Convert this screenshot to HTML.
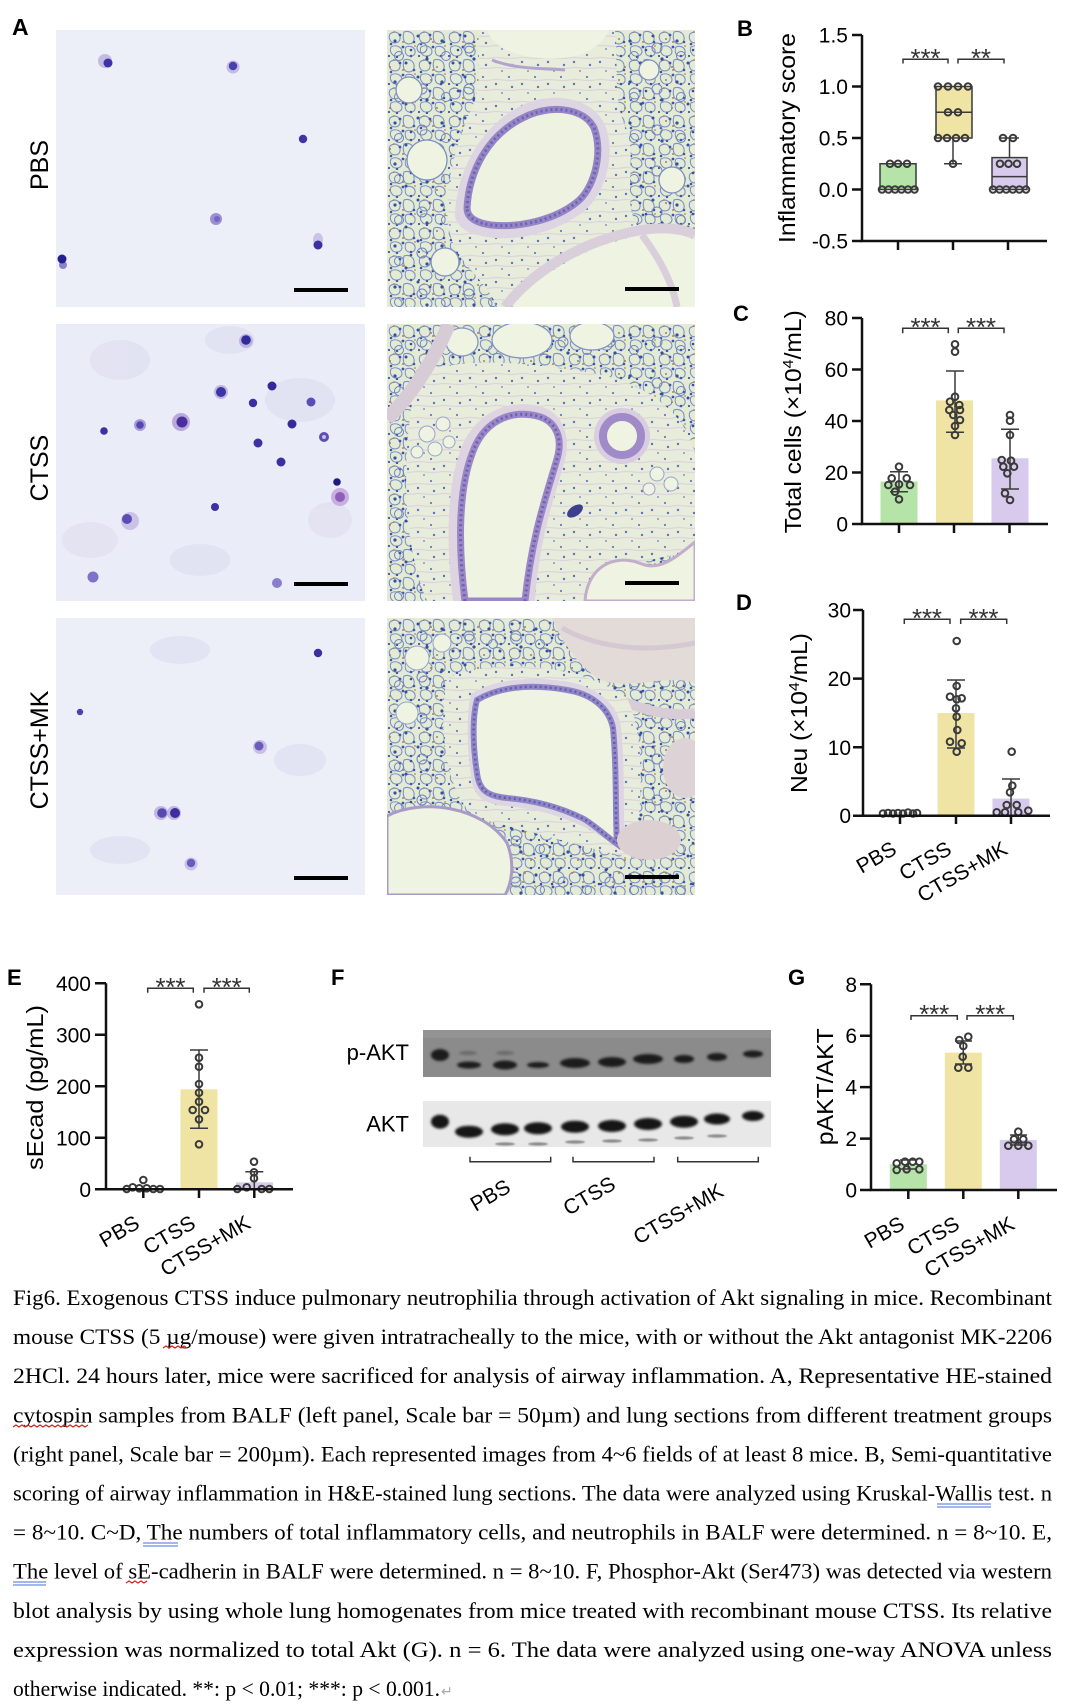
<!DOCTYPE html>
<html><head><meta charset="utf-8"><style>
html,body{margin:0;padding:0;background:#fff;}
svg{display:block;}
</style></head><body>
<svg width="1080" height="1707" viewBox="0 0 1080 1707" xmlns="http://www.w3.org/2000/svg" font-family="Liberation Sans, Arial, sans-serif">
<defs>
 <pattern id="alv" patternUnits="userSpaceOnUse" width="30" height="28">
  <rect width="30" height="28" fill="#e4ebd5"/>
  <g fill="none" stroke="#7d8fc4" stroke-width="1.1">
   <path d="M3,4 C8,0 14,3 13,9 C12,14 5,14 3,10 C2,8 2,6 3,4Z"/>
   <path d="M17,2 C23,0 28,4 27,10 C26,15 19,15 17,11 C16,8 16,5 17,2Z"/>
   <path d="M4,17 C9,14 15,17 15,22 C14,27 7,27 5,24 C3,22 3,19 4,17Z"/>
   <path d="M19,17 C24,15 29,18 28,23 C27,27 21,27 19,24 C18,22 18,19 19,17Z"/>
  </g>
  <g fill="#3f57a8">
   <circle cx="13" cy="5" r="1.4"/><circle cx="27" cy="12" r="1.3"/><circle cx="4" cy="14" r="1.3"/><circle cx="16" cy="17" r="1.4"/><circle cx="10" cy="27" r="1.2"/><circle cx="24" cy="26" r="1.3"/><circle cx="2" cy="26" r="1.1"/>
  </g>
  <g fill="#b08650"><circle cx="16" cy="12" r="1"/><circle cx="7" cy="2" r="0.9"/><circle cx="28" cy="16" r="0.9"/></g>
 </pattern>
 <pattern id="alv2" patternUnits="userSpaceOnUse" width="47" height="41">
  <g fill="#34509f"><circle cx="8" cy="11" r="1.6"/><circle cx="31" cy="6" r="1.5"/><circle cx="40" cy="29" r="1.6"/><circle cx="19" cy="33" r="1.5"/><circle cx="24" cy="20" r="1.3"/></g>
  <g fill="none" stroke="#6f82bd" stroke-width="1"><circle cx="35" cy="18" r="5"/><circle cx="12" cy="26" r="4.5"/></g>
  <g fill="#a8804c"><circle cx="44" cy="9" r="1"/><circle cx="3" cy="37" r="1"/></g>
 </pattern>
 <pattern id="ct" patternUnits="userSpaceOnUse" width="26" height="22">
  <rect width="26" height="22" fill="#e8ecdb"/>
  <path d="M0,6 C8,4 16,8 26,6" stroke="#dcd6dc" stroke-width="1.2" fill="none"/>
  <path d="M0,16 C8,14 16,18 26,16" stroke="#dcd6dc" stroke-width="1.2" fill="none"/>
  <circle cx="5" cy="10" r="1.2" fill="#5e74b6"/><circle cx="18" cy="3" r="1.1" fill="#6a7dba"/><circle cx="21" cy="13" r="1.2" fill="#5e74b6"/><circle cx="11" cy="19" r="1" fill="#8a93c6"/>
 </pattern>
 <clipPath id="cp"><rect x="0" y="0" width="308" height="277"/></clipPath>
 <filter id="bl" x="-30%" y="-60%" width="160%" height="220%"><feGaussianBlur stdDeviation="1.2"/></filter>
 <filter id="bl2" x="-30%" y="-30%" width="160%" height="160%"><feGaussianBlur stdDeviation="0.8"/></filter>
</defs>

<!-- ============ PANEL A ============ -->
<text x="12" y="35" font-size="23" font-weight="bold">A</text>
<text transform="translate(48,165) rotate(-90)" text-anchor="middle" font-size="25">PBS</text>
<text transform="translate(48,468) rotate(-90)" text-anchor="middle" font-size="25">CTSS</text>
<text transform="translate(48,750) rotate(-90)" text-anchor="middle" font-size="25">CTSS+MK</text>

<!-- left cytospin panels -->
<rect x="56" y="30" width="309" height="277" fill="#eceef8"/>
<rect x="56" y="324" width="309" height="277" fill="#eaecf7"/>
<rect x="56" y="618" width="309" height="277" fill="#eceef8"/>
<g fill="#dcdcef" opacity="0.55">
 <ellipse cx="120" cy="360" rx="30" ry="20"/><ellipse cx="230" cy="340" rx="25" ry="14"/><ellipse cx="300" cy="400" rx="35" ry="22"/>
 <ellipse cx="90" cy="540" rx="28" ry="18"/><ellipse cx="200" cy="560" rx="30" ry="16"/><ellipse cx="330" cy="520" rx="22" ry="18"/>
 <ellipse cx="180" cy="650" rx="30" ry="14"/><ellipse cx="300" cy="760" rx="26" ry="16"/><ellipse cx="120" cy="850" rx="30" ry="14"/>
</g>
<!-- cells row1 -->
<g>
 <circle cx="105" cy="61" r="7" fill="#b9aedf" opacity="0.8"/><circle cx="108" cy="63" r="4.5" fill="#3e33a2"/>
 <circle cx="233" cy="67" r="6.5" fill="#b9aedf" opacity="0.8"/><circle cx="233" cy="66" r="4.2" fill="#4a3fae"/>
 <circle cx="303" cy="139" r="4.2" fill="#3e35a6"/>
 <circle cx="216" cy="219" r="6" fill="#9a8ed4"/><circle cx="217" cy="219" r="3" fill="#7466c2"/>
 <ellipse cx="318" cy="240" rx="5" ry="7" fill="#c2b8e2" opacity="0.8"/><circle cx="318" cy="245" r="4.5" fill="#3a30a0"/>
 <circle cx="63" cy="265" r="4" fill="#8c80cf"/><circle cx="62" cy="259" r="4.5" fill="#22208a"/>
</g>
<!-- cells row2 -->
<g>
 <circle cx="246" cy="341" r="7" fill="#b3a8dc" opacity="0.8"/><circle cx="246" cy="340" r="4.8" fill="#32299a"/>
 <circle cx="221" cy="392" r="7" fill="#b3a8dc" opacity="0.8"/><circle cx="221" cy="392" r="5" fill="#3d33a4"/>
 <circle cx="272" cy="386" r="4.5" fill="#33299c"/>
 <circle cx="253" cy="403" r="4.2" fill="#3a2fa0"/>
 <circle cx="311" cy="402" r="4.5" fill="#5a4db5"/>
 <circle cx="104" cy="431" r="3.8" fill="#3b31a2"/>
 <circle cx="140" cy="425" r="6" fill="#a89cd8"/><circle cx="140" cy="425" r="3.8" fill="#5447b2"/>
 <circle cx="181" cy="422" r="9" fill="#b09fd9" opacity="0.85"/><circle cx="182" cy="422" r="5.5" fill="#4a2f9e"/>
 <circle cx="292" cy="424" r="4.5" fill="#35299c"/>
 <circle cx="324" cy="437" r="5" fill="#5b4fb6"/><circle cx="324" cy="437" r="2" fill="#c7c0e6"/>
 <circle cx="258" cy="443" r="4.5" fill="#3c32a2"/>
 <circle cx="281" cy="462" r="4.5" fill="#3a30a0"/>
 <circle cx="337" cy="482" r="3.8" fill="#1f1c80"/>
 <circle cx="340" cy="497" r="9" fill="#c5a9dc" opacity="0.9"/><circle cx="340" cy="497" r="5" fill="#8d5fb8"/>
 <circle cx="215" cy="507" r="4" fill="#3b31a2"/>
 <circle cx="130" cy="521" r="9" fill="#c3b8e2" opacity="0.8"/><circle cx="127" cy="519" r="5" fill="#5a4db5"/>
 <circle cx="93" cy="577" r="5.5" fill="#7f72c6"/>
 <circle cx="277" cy="583" r="5" fill="#8a7dcc"/>
</g>
<!-- cells row3 -->
<g>
 <circle cx="318" cy="653" r="4.2" fill="#3a30a0"/>
 <circle cx="80" cy="712" r="3.2" fill="#4a40ae"/>
 <circle cx="260" cy="747" r="7" fill="#bfb3e0" opacity="0.8"/><circle cx="259" cy="746" r="4.5" fill="#6a5cbc"/>
 <circle cx="161" cy="813" r="7" fill="#b6a9dc" opacity="0.8"/><circle cx="162" cy="813" r="4.8" fill="#5848b2"/>
 <circle cx="174" cy="813" r="7" fill="#b6a9dc" opacity="0.8"/><circle cx="175" cy="813" r="5" fill="#3b2f9e"/>
 <circle cx="191" cy="864" r="6.5" fill="#c0b5e0" opacity="0.8"/><circle cx="191" cy="863" r="4.2" fill="#6a5cbc"/>
</g>
<!-- scale bars left -->
<rect x="294" y="288" width="54" height="4" fill="#000"/>
<rect x="294" y="582" width="54" height="4" fill="#000"/>
<rect x="294" y="876" width="54" height="4" fill="#000"/>

<!-- right lung panels -->
<g transform="translate(387,30)" clip-path="url(#cp)">
 <rect width="308" height="277" fill="url(#alv)"/>
 <rect width="308" height="277" fill="url(#alv2)"/>
 <path d="M92,0 L228,0 C232,40 225,70 240,100 C250,130 235,170 250,195 L308,200 L308,277 L110,277 C100,250 70,235 62,200 C55,160 70,110 88,70 C95,45 90,20 92,0 Z" fill="url(#ct)"/>
 <path d="M100,0 C108,22 140,30 175,28 C200,26 215,15 222,0 Z" fill="#eef3e2"/>
 <path d="M105,30 C130,40 160,38 178,40" stroke="#b3a3cf" stroke-width="3" fill="none"/>
 <circle cx="40" cy="130" r="20" fill="#eef3e2" stroke="#7f8fc0" stroke-width="1.3"/>
 <circle cx="22" cy="60" r="13" fill="#eef3e2" stroke="#7f8fc0" stroke-width="1.3"/>
 <circle cx="58" cy="232" r="14" fill="#eef3e2" stroke="#7f8fc0" stroke-width="1.3"/>
 <circle cx="285" cy="150" r="13" fill="#eef3e2" stroke="#7f8fc0" stroke-width="1.3"/>
 <circle cx="262" cy="40" r="10" fill="#eef3e2" stroke="#7f8fc0" stroke-width="1.3"/>
 <path d="M68,184 C70,140 95,92 140,73 C172,61 207,70 218,95 C230,126 217,166 196,182 C170,202 130,212 100,207 C80,204 68,196 68,184 Z" fill="#ddd5e2"/>
 <path d="M80,178 C82,142 100,103 142,85 C170,74 198,80 207,98 C217,124 206,160 190,172 C168,190 132,198 104,195 C90,193 80,188 80,178 Z" fill="#eef3e1" stroke="#9585c6" stroke-width="7"/>
 <path d="M80,178 C82,142 100,103 142,85 C170,74 198,80 207,98 C217,124 206,160 190,172 C168,190 132,198 104,195 C90,193 80,188 80,178 Z" fill="none" stroke="#6e62b0" stroke-width="3" stroke-dasharray="2 3"/>
 <path d="M125,277 C150,245 200,215 255,205 C280,200 300,205 308,210 L308,277 Z" fill="#eef3e2"/>
 <path d="M118,277 C145,242 195,210 255,200 C280,196 300,200 308,205" stroke="#d9cfdb" stroke-width="10" fill="none"/>
 <path d="M255,205 C270,225 285,250 290,277" stroke="#d9cfdb" stroke-width="7" fill="none"/>
 <rect x="238" y="257" width="54" height="4" fill="#000"/>
</g>
<g transform="translate(387,324)" clip-path="url(#cp)">
 <rect width="308" height="277" fill="url(#alv)"/>
 <rect width="308" height="277" fill="url(#alv2)"/>
 <path d="M30,50 C80,30 150,40 210,50 C260,60 300,90 308,130 L308,230 C260,230 220,250 200,277 L40,277 C20,230 10,150 30,50 Z" fill="url(#ct)"/>
 <ellipse cx="135" cy="16" rx="30" ry="18" fill="#eef3e2" stroke="#8595c2" stroke-width="1.3"/>
 <ellipse cx="205" cy="12" rx="22" ry="14" fill="#eef3e2" stroke="#8595c2" stroke-width="1.3"/>
 <ellipse cx="75" cy="18" rx="16" ry="14" fill="#eef3e2" stroke="#8595c2" stroke-width="1.3"/>
 <path d="M0,95 C25,70 45,40 62,0" stroke="#d7ccd6" stroke-width="14" fill="none"/>
 <g fill="#eef3e2" stroke="#9aa5c8" stroke-width="1">
  <circle cx="40" cy="110" r="8"/><circle cx="56" cy="100" r="7"/><circle cx="48" cy="125" r="7"/><circle cx="30" cy="128" r="6"/><circle cx="62" cy="118" r="6"/>
  <circle cx="270" cy="150" r="7"/><circle cx="284" cy="160" r="7"/><circle cx="262" cy="165" r="6"/>
 </g>
 <path d="M66,277 C60,230 58,165 74,125 C86,92 118,74 152,82 C176,88 184,112 178,136 C168,172 152,214 148,277 Z" fill="#ddd3e1"/>
 <path d="M78,277 C72,230 70,170 85,130 C95,100 120,85 150,92 C170,97 176,115 170,135 C160,170 145,210 138,277 Z" fill="#eef3e2" stroke="#9a87c6" stroke-width="7"/>
 <path d="M78,277 C72,230 70,170 85,130 C95,100 120,85 150,92 C170,97 176,115 170,135 C160,170 145,210 138,277" fill="none" stroke="#6f5fb0" stroke-width="3" stroke-dasharray="2 3"/>
 <circle cx="235" cy="112" r="28" fill="#d9cde2"/>
 <circle cx="235" cy="112" r="19" fill="#eef3e2" stroke="#a08ac8" stroke-width="8"/>
 <path d="M198,277 C200,245 225,228 255,240 C275,248 295,228 308,218 L308,277 Z" fill="#eef3e2" stroke="#c2aecb" stroke-width="3"/>
 <ellipse cx="188" cy="187" rx="9" ry="5" transform="rotate(-35 188 187)" fill="#3d3f8e"/>
 <rect x="238" y="257" width="54" height="4" fill="#000"/>
</g>
<g transform="translate(387,618)" clip-path="url(#cp)">
 <rect width="308" height="277" fill="url(#alv)"/>
 <rect width="308" height="277" fill="url(#alv2)"/>
 <path d="M165,0 L308,0 L308,65 C275,55 240,75 210,60 C190,45 175,25 165,0 Z" fill="#e2dbd8"/>
 <path d="M175,10 C210,30 260,35 308,25" stroke="#d4c9d3" stroke-width="5" fill="none"/>
 <path d="M215,75 C250,90 280,100 308,95" stroke="#d8cdd6" stroke-width="10" fill="none"/>
 <ellipse cx="298" cy="150" rx="22" ry="30" fill="#ddd3d6"/>
 <path d="M60,60 C110,40 190,45 240,80 C260,120 255,200 245,240 C200,230 150,215 90,200 C60,180 50,110 60,60 Z" fill="url(#ct)"/>
 <path d="M84,76 C106,62 140,57 182,64 C210,69 230,86 234,108 C238,150 236,192 238,234 C220,222 205,212 193,207 C168,196 144,190 118,188 C96,186 86,178 84,158 C80,130 79,98 84,76 Z" fill="#ddd5e2"/>
 <path d="M90,82 C110,70 140,65 180,72 C205,76 222,90 226,110 C230,150 228,190 230,226 C215,215 205,205 195,200 C170,188 145,182 120,180 C100,178 92,172 90,155 C86,130 85,100 90,82 Z" fill="#eef3e2" stroke="#8f86c6" stroke-width="6"/>
 <path d="M90,82 C110,70 140,65 180,72 C205,76 222,90 226,110 C230,150 228,190 230,226 C215,215 205,205 195,200 C170,188 145,182 120,180 C100,178 92,172 90,155 C86,130 85,100 90,82 Z" fill="none" stroke="#665ab0" stroke-width="2.5" stroke-dasharray="2 3"/>
 <path d="M0,198 C35,180 95,188 120,225 C128,245 125,265 118,277 L0,277 Z" fill="#eef3e2" stroke="#a99bc8" stroke-width="3"/>
 <ellipse cx="262" cy="222" rx="32" ry="20" fill="#ddd0d3"/>
 <g fill="#eef3e2" stroke="#9aa5c8" stroke-width="1"><circle cx="30" cy="40" r="12"/><circle cx="55" cy="25" r="9"/><circle cx="20" cy="95" r="11"/></g>
 <rect x="238" y="257" width="54" height="4" fill="#000"/>
</g>

<!-- ============ PANEL B ============ -->
<text x="737" y="36" font-size="22" font-weight="bold">B</text>
<text transform="translate(795,138) rotate(-90)" text-anchor="middle" font-size="23" textLength="210" lengthAdjust="spacingAndGlyphs">Inflammatory score</text>
<g font-size="21" text-anchor="end">
 <text x="848" y="42.5">1.5</text><text x="848" y="94">1.0</text><text x="848" y="145.5">0.5</text><text x="848" y="197">0.0</text><text x="848" y="248.5">-0.5</text>
</g>
<g stroke="#3a3a3a" stroke-width="1.5">
 <rect x="880" y="163.75" width="36" height="25.75" fill="#b5e3a8"/>
 <rect x="936" y="86.5" width="36" height="51.5" fill="#f0e4a4"/>
 <line x1="936" y1="112.25" x2="972" y2="112.25"/>
 <line x1="953" y1="138" x2="953" y2="163.75"/><line x1="944" y1="163.75" x2="962" y2="163.75"/>
 <rect x="992" y="157.6" width="35" height="31.9" fill="#d7caec"/>
 <line x1="992" y1="176.6" x2="1027" y2="176.6"/>
 <line x1="1009.5" y1="157.6" x2="1009.5" y2="138"/><line x1="1000" y1="138" x2="1019" y2="138"/>
</g>
<g fill="none" stroke="#3a3a3a" stroke-width="2">
 <circle cx="890" cy="163.75" r="3.3"/><circle cx="898" cy="163.75" r="3.3"/><circle cx="907" cy="163.75" r="3.3"/>
 <circle cx="882" cy="189.5" r="3.3"/><circle cx="888.5" cy="189.5" r="3.3"/><circle cx="895" cy="189.5" r="3.3"/><circle cx="901.5" cy="189.5" r="3.3"/><circle cx="908" cy="189.5" r="3.3"/><circle cx="914.5" cy="189.5" r="3.3"/>
 <circle cx="938" cy="86.5" r="3.3"/><circle cx="948" cy="86.5" r="3.3"/><circle cx="958" cy="86.5" r="3.3"/><circle cx="968" cy="86.5" r="3.3"/>
 <circle cx="948" cy="112.25" r="3.3"/><circle cx="958" cy="112.25" r="3.3"/>
 <circle cx="938" cy="138" r="3.3"/><circle cx="947" cy="138" r="3.3"/><circle cx="956" cy="138" r="3.3"/><circle cx="965" cy="138" r="3.3"/>
 <circle cx="953" cy="163.75" r="3.3"/>
 <circle cx="1003" cy="138" r="3.3"/><circle cx="1013" cy="138" r="3.3"/>
 <circle cx="1000" cy="163.75" r="3.3"/><circle cx="1008.5" cy="163.75" r="3.3"/><circle cx="1017" cy="163.75" r="3.3"/>
 <circle cx="993" cy="189.5" r="3.3"/><circle cx="999.6" cy="189.5" r="3.3"/><circle cx="1006.2" cy="189.5" r="3.3"/><circle cx="1012.8" cy="189.5" r="3.3"/><circle cx="1019.4" cy="189.5" r="3.3"/><circle cx="1026" cy="189.5" r="3.3"/>
</g>
<g fill="none" stroke="#111" stroke-width="2.5">
 <path d="M862,35 V241 H1047"/>
 <path d="M852,35 H862 M852,86.5 H862 M852,138 H862 M852,189.5 H862 M852,241 H862"/>
 <path d="M898,241 V250 M953,241 V250 M1008,241 V250"/>
</g>
<g fill="none" stroke="#333" stroke-width="1.5">
 <path d="M903,63.5 V59.3 H948 V63.5"/><path d="M958,63.5 V59.3 H1004 V63.5"/>
</g>
<g font-size="26" text-anchor="middle" fill="#333">
 <text x="925.5" y="67" textLength="30" lengthAdjust="spacing">***</text>
 <text x="981" y="67" textLength="20" lengthAdjust="spacing">**</text>
</g>

<!-- ============ PANEL C ============ -->
<text x="733" y="321" font-size="22" font-weight="bold">C</text>
<text transform="translate(801,421.7) rotate(-90)" text-anchor="middle" font-size="23" textLength="223" lengthAdjust="spacingAndGlyphs">Total cells (×10<tspan dy="-8" font-size="15">4</tspan><tspan dy="8">/mL)</tspan></text>
<g font-size="21" text-anchor="end">
 <text x="848" y="325.5">80</text><text x="848" y="377">60</text><text x="848" y="428.5">40</text><text x="848" y="480">20</text><text x="848" y="531.5">0</text>
</g>
<rect x="880.5" y="481.5" width="37" height="42.5" fill="#b5e3a8"/>
<rect x="936" y="400.4" width="37" height="123.6" fill="#f0e4a4"/>
<rect x="991.5" y="458.3" width="37" height="65.7" fill="#d7caec"/>
<g stroke="#3a3a3a" stroke-width="1.5" fill="none">
 <path d="M899,471.7 V491.7 M890,471.7 H908 M890,491.7 H908"/>
 <path d="M955,371 V432.3 M946,371 H964 M946,432.3 H964"/>
 <path d="M1010,429.3 V489 M1001,429.3 H1019 M1001,489 H1019"/>
</g>
<g fill="none" stroke="#3a3a3a" stroke-width="2">
 <circle cx="899" cy="466.7" r="3.3"/><circle cx="891.7" cy="478.3" r="3.3"/><circle cx="906.7" cy="478.3" r="3.3"/><circle cx="888.3" cy="485" r="3.3"/><circle cx="899" cy="484.3" r="3.3"/><circle cx="910" cy="485" r="3.3"/><circle cx="895" cy="491.7" r="3.3"/><circle cx="899" cy="499.3" r="3.3"/>
 <circle cx="955" cy="344.3" r="3.3"/><circle cx="955" cy="351.7" r="3.3"/><circle cx="955" cy="396.7" r="3.3"/><circle cx="950" cy="401.7" r="3.3"/><circle cx="959.3" cy="405" r="3.3"/><circle cx="949.3" cy="410" r="3.3"/><circle cx="960" cy="410" r="3.3"/><circle cx="953.3" cy="415" r="3.3"/><circle cx="960" cy="420" r="3.3"/><circle cx="955" cy="426" r="3.3"/><circle cx="955" cy="435" r="3.3"/>
 <circle cx="1010" cy="415" r="3.3"/><circle cx="1010" cy="420.7" r="3.3"/><circle cx="1010" cy="435" r="3.3"/><circle cx="1001.7" cy="460" r="3.3"/><circle cx="1011" cy="460.7" r="3.3"/><circle cx="1003.3" cy="466.7" r="3.3"/><circle cx="1014" cy="466.7" r="3.3"/><circle cx="1007.3" cy="473.3" r="3.3"/><circle cx="1005" cy="493.3" r="3.3"/><circle cx="1010" cy="500" r="3.3"/>
</g>
<g fill="none" stroke="#111" stroke-width="2.5">
 <path d="M862,318 V524 H1048"/>
 <path d="M852,318 H862 M852,369.5 H862 M852,421 H862 M852,472.5 H862 M852,524 H862"/>
 <path d="M899,524 V533 M954,524 V533 M1009.5,524 V533"/>
</g>
<g fill="none" stroke="#333" stroke-width="1.5">
 <path d="M902.7,333.3 V328.3 H948.3 V333.3"/><path d="M958.3,333.3 V328.3 H1004 V333.3"/>
</g>
<g font-size="26" text-anchor="middle" fill="#333">
 <text x="925.5" y="336" textLength="30" lengthAdjust="spacing">***</text>
 <text x="981" y="336" textLength="30" lengthAdjust="spacing">***</text>
</g>

<!-- ============ PANEL D ============ -->
<text x="736" y="610" font-size="22" font-weight="bold">D</text>
<text transform="translate(807,713) rotate(-90)" text-anchor="middle" font-size="23" textLength="160" lengthAdjust="spacingAndGlyphs">Neu (×10<tspan dy="-8" font-size="15">4</tspan><tspan dy="8">/mL)</tspan></text>
<g font-size="21" text-anchor="end">
 <text x="851" y="617.5">30</text><text x="851" y="686">20</text><text x="851" y="755">10</text><text x="851" y="823">0</text>
</g>
<rect x="937.5" y="713" width="37" height="102.7" fill="#f0e4a4"/>
<rect x="992.5" y="798.6" width="37" height="17.1" fill="#d7caec"/>
<g stroke="#3a3a3a" stroke-width="1.5" fill="none">
 <path d="M956,680 V748 M947,680 H965 M947,748 H965"/>
 <path d="M1011,779 V815 M1002,779 H1020"/>
</g>
<g fill="none" stroke="#3a3a3a" stroke-width="2">
 <circle cx="883" cy="813.5" r="3.3"/><circle cx="888" cy="813" r="3.3"/><circle cx="893" cy="813.5" r="3.3"/><circle cx="898" cy="813" r="3.3"/><circle cx="903" cy="813.5" r="3.3"/><circle cx="908" cy="812.5" r="3.3"/><circle cx="913" cy="813.5" r="3.3"/><circle cx="917" cy="813" r="3.3"/>
 <circle cx="956.7" cy="641" r="3.3"/><circle cx="956.7" cy="686" r="3.3"/><circle cx="956.7" cy="699.3" r="3.3"/><circle cx="950" cy="696.7" r="3.3"/><circle cx="961.7" cy="698.3" r="3.3"/><circle cx="956" cy="708.3" r="3.3"/><circle cx="956.7" cy="716.7" r="3.3"/><circle cx="957.3" cy="730" r="3.3"/><circle cx="950" cy="741.7" r="3.3"/><circle cx="961.7" cy="743.3" r="3.3"/><circle cx="956.7" cy="751.7" r="3.3"/>
 <circle cx="1011.7" cy="751.7" r="3.3"/><circle cx="1012.3" cy="785.7" r="3.3"/><circle cx="1010" cy="792.3" r="3.3"/><circle cx="1006.7" cy="805" r="3.3"/><circle cx="1016.7" cy="805" r="3.3"/><circle cx="996.7" cy="812.3" r="3.3"/><circle cx="1005" cy="812.3" r="3.3"/><circle cx="1018.3" cy="812.3" r="3.3"/><circle cx="1028.3" cy="810.7" r="3.3"/>
</g>
<g fill="none" stroke="#111" stroke-width="2.5">
 <path d="M863,610 V815.7 H1050"/>
 <path d="M853,610 H863 M853,678.6 H863 M853,747.2 H863 M853,815.7 H863"/>
 <path d="M900,815.7 V824 M956,815.7 V824 M1011,815.7 V824"/>
</g>
<g fill="none" stroke="#333" stroke-width="1.5">
 <path d="M904.3,624 V619.3 H950 V624"/><path d="M960.7,624 V619.3 H1006.7 V624"/>
</g>
<g font-size="26" text-anchor="middle" fill="#333">
 <text x="927" y="627" textLength="30" lengthAdjust="spacing">***</text>
 <text x="983.5" y="627" textLength="30" lengthAdjust="spacing">***</text>
</g>
<g font-size="21" text-anchor="end">
 <text transform="translate(898,853) rotate(-30)">PBS</text>
 <text transform="translate(953,853) rotate(-30)">CTSS</text>
 <text transform="translate(1009,853) rotate(-30)">CTSS+MK</text>
</g>

<!-- ============ PANEL E ============ -->
<text x="7" y="985" font-size="22" font-weight="bold">E</text>
<text transform="translate(43,1087.5) rotate(-90)" text-anchor="middle" font-size="23" textLength="165" lengthAdjust="spacingAndGlyphs">sEcad (pg/mL)</text>
<g font-size="21" text-anchor="end">
 <text x="91" y="990.8">400</text><text x="91" y="1042.3">300</text><text x="91" y="1093.8">200</text><text x="91" y="1145.3">100</text><text x="91" y="1196.8">0</text>
</g>
<rect x="180.5" y="1089.3" width="37" height="100" fill="#f0e4a4"/>
<rect x="236" y="1182.3" width="37" height="7" fill="#d7caec"/>
<g stroke="#3a3a3a" stroke-width="1.5" fill="none">
 <path d="M199,1050 V1128.3 M190,1050 H208 M190,1128.3 H208"/>
 <path d="M254.3,1171.7 V1189 M245.3,1171.7 H263.3"/>
</g>
<g fill="none" stroke="#3a3a3a" stroke-width="2">
 <circle cx="143.3" cy="1180" r="3.3"/><circle cx="126.7" cy="1189" r="3.3"/><circle cx="132.7" cy="1187.3" r="3.3"/><circle cx="139.3" cy="1188.3" r="3.3"/><circle cx="146.7" cy="1188.3" r="3.3"/><circle cx="153.3" cy="1189" r="3.3"/><circle cx="160" cy="1189" r="3.3"/>
 <circle cx="199" cy="1004.3" r="3.3"/><circle cx="199" cy="1057.7" r="3.3"/><circle cx="199" cy="1066.7" r="3.3"/><circle cx="199" cy="1084" r="3.3"/><circle cx="199" cy="1092.7" r="3.3"/><circle cx="199" cy="1101.7" r="3.3"/><circle cx="192.7" cy="1110" r="3.3"/><circle cx="205" cy="1110" r="3.3"/><circle cx="199" cy="1119.3" r="3.3"/><circle cx="199" cy="1144.3" r="3.3"/>
 <circle cx="254" cy="1161.7" r="3.3"/><circle cx="254" cy="1172.3" r="3.3"/><circle cx="254" cy="1178.3" r="3.3"/><circle cx="246.7" cy="1187.3" r="3.3"/><circle cx="237.3" cy="1189" r="3.3"/><circle cx="261.7" cy="1189" r="3.3"/><circle cx="269.3" cy="1189" r="3.3"/>
</g>
<g fill="none" stroke="#111" stroke-width="2.5">
 <path d="M106,983.3 V1189.3 H293"/>
 <path d="M95,983.3 H106 M95,1034.8 H106 M95,1086.3 H106 M95,1137.8 H106 M95,1189.3 H106"/>
 <path d="M143.3,1189.3 V1198 M199,1189.3 V1198 M254.3,1189.3 V1198"/>
</g>
<g fill="none" stroke="#333" stroke-width="1.5">
 <path d="M147.7,992.7 V988.3 H193.3 V992.7"/><path d="M204,992.7 V988.3 H249.3 V992.7"/>
</g>
<g font-size="26" text-anchor="middle" fill="#333">
 <text x="170.5" y="996" textLength="30" lengthAdjust="spacing">***</text>
 <text x="226.7" y="996" textLength="30" lengthAdjust="spacing">***</text>
</g>
<g font-size="21" text-anchor="end">
 <text transform="translate(141,1227) rotate(-30)">PBS</text>
 <text transform="translate(197,1227) rotate(-30)">CTSS</text>
 <text transform="translate(252,1227) rotate(-30)">CTSS+MK</text>
</g>

<!-- ============ PANEL F ============ -->
<text x="331" y="985" font-size="22" font-weight="bold">F</text>
<text x="409" y="1060" font-size="22" text-anchor="end">p-AKT</text>
<text x="409" y="1131.7" font-size="22" text-anchor="end">AKT</text>
<rect x="423" y="1030" width="348" height="47" fill="#8b8b8b"/>
<rect x="423" y="1030" width="348" height="8" fill="#939393"/>
<g fill="#1c1c1c" filter="url(#bl)">
 <ellipse cx="440" cy="1055" rx="9" ry="6"/>
 <ellipse cx="469" cy="1065" rx="12" ry="3.5"/>
 <ellipse cx="505" cy="1065" rx="12" ry="4.5"/>
 <ellipse cx="538" cy="1065" rx="11" ry="3"/>
 <ellipse cx="575" cy="1063" rx="15" ry="5"/>
 <ellipse cx="612" cy="1062" rx="14" ry="5"/>
 <ellipse cx="648" cy="1059" rx="15" ry="5"/>
 <ellipse cx="684" cy="1059" rx="10" ry="4"/>
 <ellipse cx="717" cy="1057" rx="10" ry="4"/>
 <ellipse cx="753" cy="1054" rx="10" ry="3.5"/>
</g>
<g fill="#555" opacity="0.6" filter="url(#bl)">
 <ellipse cx="468" cy="1053" rx="9" ry="2"/><ellipse cx="505" cy="1053" rx="9" ry="2"/>
</g>
<rect x="423" y="1101" width="348" height="46" fill="#e8e8e8"/>
<g fill="#141414" filter="url(#bl)">
 <ellipse cx="440" cy="1121.7" rx="9" ry="7"/>
 <ellipse cx="469" cy="1131.7" rx="14" ry="6"/>
 <ellipse cx="505" cy="1129.3" rx="14" ry="6"/>
 <ellipse cx="538" cy="1128.3" rx="14" ry="6"/>
 <ellipse cx="575" cy="1126.7" rx="14" ry="6"/>
 <ellipse cx="612" cy="1126" rx="14" ry="6"/>
 <ellipse cx="648" cy="1124" rx="14" ry="6"/>
 <ellipse cx="684" cy="1121.7" rx="14" ry="6"/>
 <ellipse cx="717" cy="1119" rx="13" ry="5.5"/>
 <ellipse cx="753" cy="1116" rx="11" ry="5"/>
</g>
<g fill="#8a8a8a" filter="url(#bl2)">
 <ellipse cx="505" cy="1144" rx="10" ry="1.6"/><ellipse cx="538" cy="1144" rx="10" ry="1.6"/><ellipse cx="575" cy="1142" rx="10" ry="1.6"/><ellipse cx="612" cy="1141" rx="10" ry="1.6"/><ellipse cx="648" cy="1140" rx="10" ry="1.6"/><ellipse cx="684" cy="1138" rx="10" ry="1.6"/><ellipse cx="717" cy="1136" rx="10" ry="1.6"/>
</g>
<g fill="none" stroke="#333" stroke-width="1.5">
 <path d="M470,1156.7 V1161.7 H550.7 V1156.7"/>
 <path d="M573,1156.7 V1161.7 H654 V1156.7"/>
 <path d="M677.7,1156.7 V1161.7 H758.3 V1156.7"/>
</g>
<g font-size="21" text-anchor="end">
 <text transform="translate(512,1191) rotate(-30)">PBS</text>
 <text transform="translate(617,1188) rotate(-30)">CTSS</text>
 <text transform="translate(725,1195) rotate(-30)">CTSS+MK</text>
</g>

<!-- ============ PANEL G ============ -->
<text x="788" y="985" font-size="22" font-weight="bold">G</text>
<text transform="translate(833,1086.7) rotate(-90)" text-anchor="middle" font-size="23" textLength="117" lengthAdjust="spacingAndGlyphs">pAKT/AKT</text>
<g font-size="21" text-anchor="end">
 <text x="857" y="991.8">8</text><text x="857" y="1043.2">6</text><text x="857" y="1094.6">4</text><text x="857" y="1146">2</text><text x="857" y="1197.5">0</text>
</g>
<rect x="889.8" y="1164.3" width="37" height="25.7" fill="#b5e3a8"/>
<rect x="944.8" y="1052.6" width="37" height="137.4" fill="#f0e4a4"/>
<rect x="999.8" y="1139.9" width="37" height="50.1" fill="#d7caec"/>
<g stroke="#3a3a3a" stroke-width="1.5" fill="none">
 <path d="M908.3,1160 V1169 M900,1160 H917 M900,1169 H917"/>
 <path d="M963.3,1041 V1064 M955,1041 H972 M955,1064 H972"/>
 <path d="M1018.3,1135 V1145 M1010,1135 H1027 M1010,1145 H1027"/>
</g>
<g fill="none" stroke="#3a3a3a" stroke-width="2">
 <circle cx="896.7" cy="1163.3" r="3.3"/><circle cx="896.7" cy="1170" r="3.3"/><circle cx="905" cy="1161.7" r="3.3"/><circle cx="912.7" cy="1161.7" r="3.3"/><circle cx="919.3" cy="1161.7" r="3.3"/><circle cx="906.7" cy="1169.3" r="3.3"/><circle cx="919.3" cy="1169.3" r="3.3"/>
 <circle cx="959.3" cy="1040" r="3.3"/><circle cx="968.3" cy="1036.7" r="3.3"/><circle cx="963.3" cy="1046" r="3.3"/><circle cx="962.7" cy="1056.7" r="3.3"/><circle cx="958.3" cy="1067.7" r="3.3"/><circle cx="968.3" cy="1067.7" r="3.3"/>
 <circle cx="1018.3" cy="1131.7" r="3.3"/><circle cx="1014" cy="1139.3" r="3.3"/><circle cx="1023.3" cy="1139.3" r="3.3"/><circle cx="1008.3" cy="1145.7" r="3.3"/><circle cx="1018.3" cy="1145.7" r="3.3"/><circle cx="1028.3" cy="1145.7" r="3.3"/>
</g>
<g fill="none" stroke="#111" stroke-width="2.5">
 <path d="M871,984.3 V1190 H1057"/>
 <path d="M860,984.3 H871 M860,1035.7 H871 M860,1087.1 H871 M860,1138.6 H871 M860,1190 H871"/>
 <path d="M908.3,1190 V1199 M963.3,1190 V1199 M1018.3,1190 V1199"/>
</g>
<g fill="none" stroke="#333" stroke-width="1.5">
 <path d="M911,1020 V1015.7 H957.3 V1020"/><path d="M967,1020 V1015.7 H1013.3 V1020"/>
</g>
<g font-size="26" text-anchor="middle" fill="#333">
 <text x="934.2" y="1023" textLength="30" lengthAdjust="spacing">***</text>
 <text x="990.2" y="1023" textLength="30" lengthAdjust="spacing">***</text>
</g>
<g font-size="21" text-anchor="end">
 <text transform="translate(906,1228) rotate(-30)">PBS</text>
 <text transform="translate(961,1228) rotate(-30)">CTSS</text>
 <text transform="translate(1016,1228) rotate(-30)">CTSS+MK</text>
</g>

<!-- ============ CAPTION ============ -->
<g font-family="Liberation Serif, Times New Roman, serif" font-size="22" fill="#000">
 <text x="13" y="1305" textLength="1039" lengthAdjust="spacingAndGlyphs">Fig6. Exogenous CTSS induce pulmonary neutrophilia through activation of Akt signaling in mice. Recombinant</text>
 <text x="13" y="1344.1" textLength="1039" lengthAdjust="spacingAndGlyphs">mouse CTSS (5 µg/mouse) were given intratracheally to the mice, with or without the Akt antagonist MK-2206</text>
 <text x="13" y="1383.2" textLength="1039" lengthAdjust="spacingAndGlyphs">2HCl. 24 hours later, mice were sacrificed for analysis of airway inflammation. A, Representative HE-stained</text>
 <text x="13" y="1422.3" textLength="1039" lengthAdjust="spacingAndGlyphs">cytospin samples from BALF (left panel, Scale bar = 50µm) and lung sections from different treatment groups</text>
 <text x="13" y="1461.4" textLength="1039" lengthAdjust="spacingAndGlyphs">(right panel, Scale bar = 200µm). Each represented images from 4~6 fields of at least 8 mice. B, Semi-quantitative</text>
 <text x="13" y="1500.5" textLength="1039" lengthAdjust="spacingAndGlyphs">scoring of airway inflammation in H&amp;E-stained lung sections. The data were analyzed using Kruskal-Wallis test. n</text>
 <text x="13" y="1539.6" textLength="1039" lengthAdjust="spacingAndGlyphs">= 8~10. C~D, The numbers of total inflammatory cells, and neutrophils in BALF were determined. n = 8~10. E,</text>
 <text x="13" y="1578.7" textLength="1039" lengthAdjust="spacingAndGlyphs">The level of sE-cadherin in BALF were determined. n = 8~10. F, Phosphor-Akt (Ser473) was detected via western</text>
 <text x="13" y="1617.8" textLength="1039" lengthAdjust="spacingAndGlyphs">blot analysis by using whole lung homogenates from mice treated with recombinant mouse CTSS. Its relative</text>
 <text x="13" y="1656.9" textLength="1039" lengthAdjust="spacingAndGlyphs">expression was normalized to total Akt (G). n = 6. The data were analyzed using one-way ANOVA unless</text>
 <text x="13" y="1696" textLength="427" lengthAdjust="spacingAndGlyphs">otherwise indicated. **: p &lt; 0.01; ***: p &lt; 0.001.</text>
</g>
<text x="441" y="1696" font-family="DejaVu Sans, sans-serif" font-size="14" fill="#aaa">↵</text>
<!-- squiggles / underlines -->
<g fill="none" stroke="#d42020" stroke-width="1.2">
 <path d="M163,1348 l3,-2 l3,2 l3,-2 l3,2 l3,-2 l3,2 l3,-2 l3,2"/>
 <path d="M13,1427 l3,-2 l3,2 l3,-2 l3,2 l3,-2 l3,2 l3,-2 l3,2 l3,-2 l3,2 l3,-2 l3,2 l3,-2 l3,2 l3,-2 l3,2 l3,-2 l3,2 l3,-2 l3,2 l3,-2 l3,2 l3,-2 l3,2 l3,-2"/>
 <path d="M126,1583 l3,-2 l3,2 l3,-2 l3,2 l3,-2 l3,2 l3,-2"/>
</g>
<g fill="none" stroke="#4a6fd8" stroke-width="1">
 <path d="M937,1504 H991 M937,1507 H991"/>
 <path d="M143,1543 H178 M143,1546 H178"/>
 <path d="M13,1582 H46 M13,1585 H46"/>
</g>
</svg>
</body></html>
